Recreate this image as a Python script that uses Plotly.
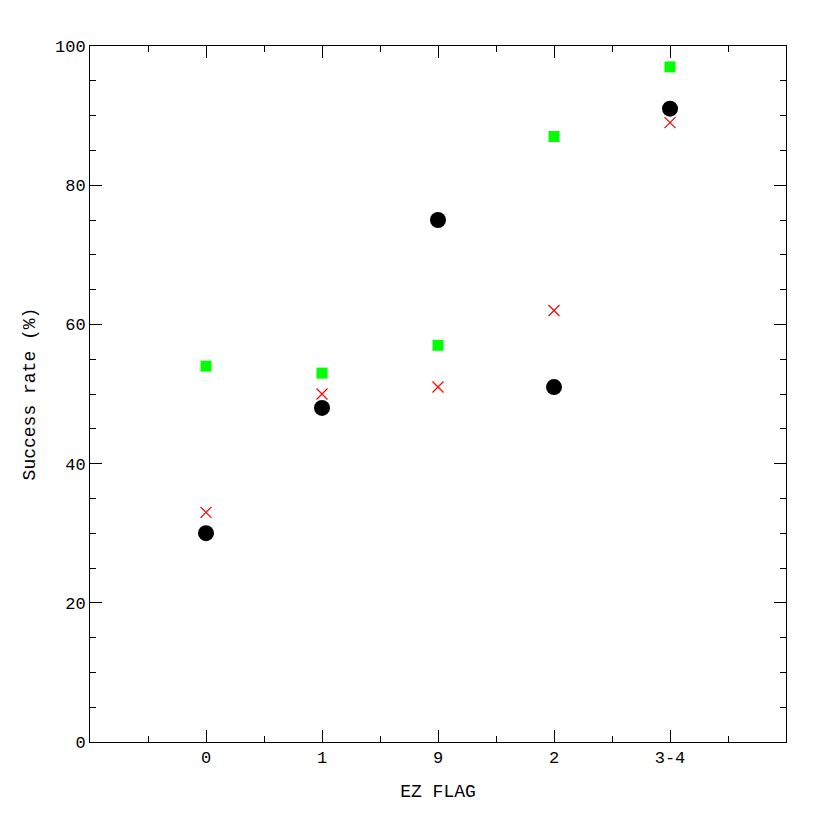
import plotly.graph_objects as go

# EZ flag categories and success rates (%)
flags = ['0', '1', '9', '2', '3-4']
positions = [0, 1, 2, 3, 4]
green_rate = [54, 53, 57, 87, 97]
red_rate = [33, 50, 51, 62, 89]
black_rate = [30, 48, 75, 51, 91]

FONT = "Liberation Mono"

fig = go.Figure()
fig.add_trace(go.Scatter(
    x=positions, y=green_rate, mode='markers',
    marker=dict(symbol='square', size=11, color='#00FF00', line=dict(width=0)),
    showlegend=False
))
fig.add_trace(go.Scatter(
    x=positions, y=red_rate, mode='markers',
    marker=dict(symbol='x-thin', size=11, color='red', line=dict(width=1.2, color='red')),
    showlegend=False
))
fig.add_trace(go.Scatter(
    x=positions, y=black_rate, mode='markers',
    marker=dict(symbol='circle', size=16, color='black', line=dict(width=0)),
    showlegend=False
))

axis_common = dict(
    showgrid=False, zeroline=False, showline=True, linecolor='black', linewidth=1,
    mirror='allticks', ticks='inside', ticklen=12, tickcolor='black', tickwidth=1,
    tickfont=dict(family=FONT, size=17, color='black'),
)

fig.update_layout(
    width=830, height=830,
    plot_bgcolor='white', paper_bgcolor='white',
    margin=dict(l=82, r=52, t=38, b=96),
    xaxis=dict(
        range=[-1, 5], tickmode='array', tickvals=positions, ticktext=flags,
        minor=dict(tickvals=[-0.5, 0.5, 1.5, 2.5, 3.5, 4.5], ticklen=6, ticks='inside', tickcolor='black'),
        title=dict(text='EZ FLAG', font=dict(family=FONT, size=18, color='black'), standoff=16),
        **axis_common
    ),
    yaxis=dict(
        range=[0, 100], tickmode='linear', tick0=0, dtick=20,
        minor=dict(dtick=5, ticklen=6, ticks='inside', tickcolor='black'),
        title=dict(text='Success rate (%)', font=dict(family=FONT, size=18, color='black'), standoff=14),
        **axis_common
    ),
)

fig.write_html("out.html")
